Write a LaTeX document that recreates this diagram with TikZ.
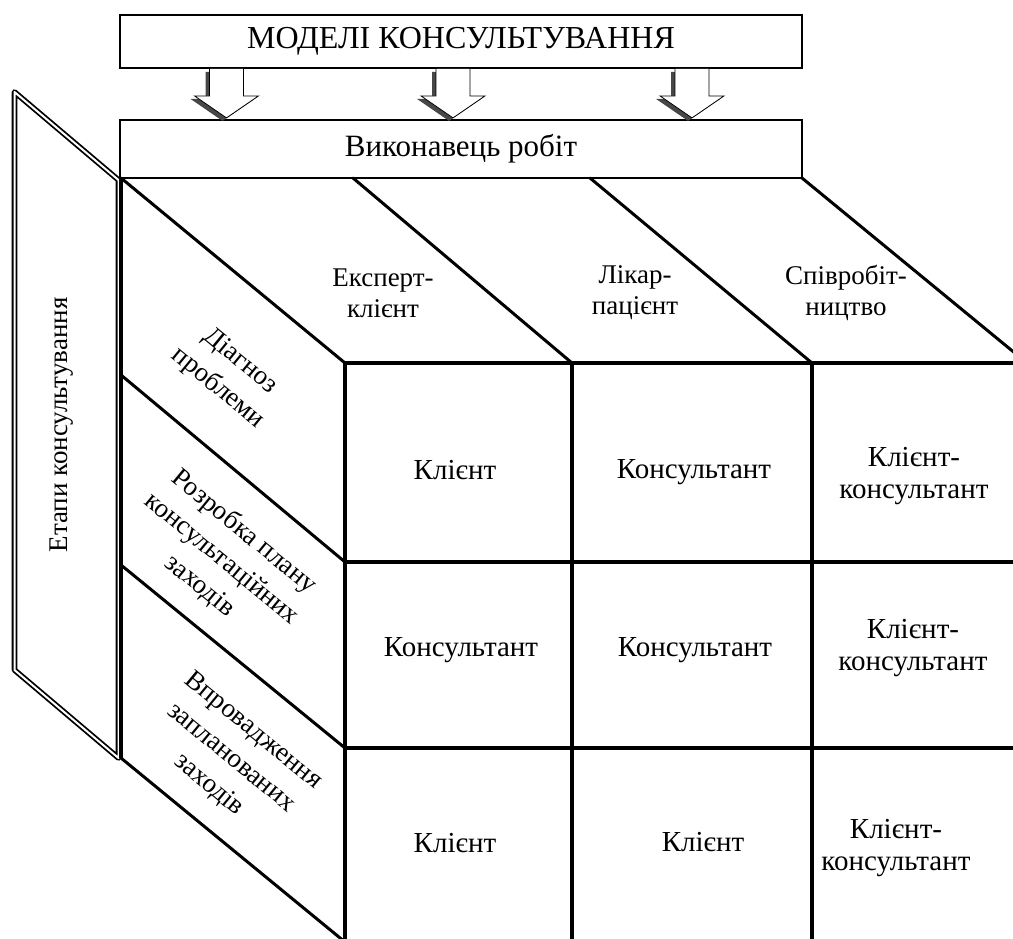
\documentclass[tikz,border=0pt]{standalone}
\usepackage{fontspec}
\newfontfamily\tnr{Liberation Serif}
\begin{document}
\begin{tikzpicture}[x=1pt,y=-1pt,
  box/.style={draw, line width=1.8pt, minimum width=682pt, inner sep=0pt, fill=white},
  cubeline/.style={line width=3pt, line cap=round},
  gridline/.style={line width=3.4pt},
  txt/.style={font=\tnr\fontsize{27}{31}\selectfont, align=center, inner sep=0pt},
  celltxt/.style={font=\tnr\fontsize{29}{32}\selectfont, align=center, inner sep=0pt},
  sidetxt/.style={inner sep=0pt, align=center, rotate=-39.4, font=\tnr\fontsize{27}{35}\selectfont},
  panel/.style={double, line width=1.8pt, double distance=2pt, line join=round},
  barrow/.pic={
    \fill[black!72] (-21,3) -- (-21,30) -- (-36,30) -- (-4,52) -- (28,30) -- (13,30) -- (13,3) -- cycle;
    \draw[fill=white, line width=0.8pt] (-17,0) -- (-17,27) -- (-32,27) -- (0,49) -- (32,27) -- (17,27) -- (17,0);
  }]
\useasboundingbox (0,0) rectangle (1013,938);

% stage panel
\draw[panel] (14.5,92) -- (118.5,180) -- (118.5,758) -- (14.5,670) -- cycle;
\node[font=\tnr\fontsize{27}{31}\selectfont, rotate=90, inner sep=0pt] (stages) at (62,425) {Етапи консультування};

% header boxes
\node[box, minimum height=53pt, font=\tnr\fontsize{32}{36}\selectfont] (models) at (461,41.5) {МОДЕЛІ КОНСУЛЬТУВАННЯ};
\node[box, minimum height=58pt, font=\tnr\fontsize{31}{35}\selectfont] (exec) at (461,149) {Виконавець робіт};

% block arrows
\coordinate (a1) at (226.5,0);
\coordinate (a2) at (453,0);
\coordinate (a3) at (692,0);
\pic at (a1 |- models.south) {barrow};
\pic at (a2 |- models.south) {barrow};
\pic at (a3 |- models.south) {barrow};

\begin{scope}
\clip (0,0) rectangle (1013,938);
% cube: top face
\coordinate (c0) at (121,178);
\draw[cubeline] (c0) -- (345,363);
\draw[cubeline] (353,178) -- (572,363);
\draw[cubeline] (590,178) -- (812,363);
\draw[cubeline] (802,178) -- (1027,363);
\draw[gridline] (345,363) -- (1030,363);

% cube: side face
\draw[gridline] (c0) -- (121,758);
\draw[cubeline] (121,375) -- (345,562);
\draw[cubeline] (121,565) -- (345,748);
\draw[cubeline] (121,758) -- (345,942);

% cube: front face
\draw[gridline] (345,362) -- (345,945);
\draw[gridline] (572,362) -- (572,945);
\draw[gridline] (812,362) -- (812,945);
\draw[gridline] (345,562) -- (1030,562);
\draw[gridline] (345,748) -- (1030,748);
\end{scope}

% top face labels
\node[txt] (m1) at (383,293) {Експерт-\\клієнт};
\node[txt] (m2) at (635,293) {Лікар-\\пацієнт};
\node[txt] (m3) at (846,293) {Співробіт-\\ництво};

% side face labels
\node[sidetxt] (s1) at (229,375) {Діагноз\\проблеми};
\node[sidetxt] (s2) at (222,559) {Розробка плану\\консультаційних\\заходів};
\node[sidetxt] (s3) at (231,758) {Впровадження\\запланованих\\заходів};

% front cells
\node[celltxt] (r1c1) at (455,470) {Клієнт};
\node[celltxt] (r1c2) at (694,472) {Консультант};
\node[celltxt] (r1c3) at (914,476) {Клієнт-\\консультант};
\node[celltxt] (r2c1) at (461,650) {Консультант};
\node[celltxt] (r2c2) at (695,650) {Консультант};
\node[celltxt] (r2c3) at (913,648) {Клієнт-\\консультант};
\node[celltxt] (r3c1) at (455,843) {Клієнт};
\node[celltxt] (r3c2) at (703,842) {Клієнт};
\node[celltxt] (r3c3) at (896,848) {Клієнт-\\консультант};
\end{tikzpicture}
\end{document}
